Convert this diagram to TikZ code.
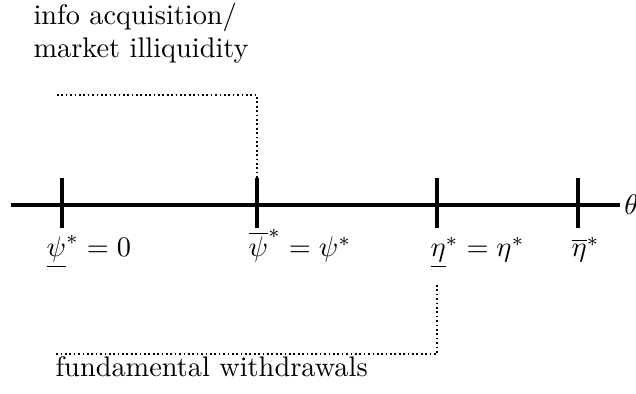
\documentclass[tikz,border=0pt]{standalone}
\begin{document}
\begin{tikzpicture}[x=0.3528pt,y=-0.3528pt,
  axis/.style={line width=1.1pt},
  tickmark/.style={line width=1.5pt},
  guide/.style={line width=0.6pt,dash pattern=on 0.6pt off 0.95pt},
  lbl/.style={anchor=base west,inner sep=0pt}]
\useasboundingbox (0,0) rectangle (636,394);
% axis
\coordinate (a0) at (11,205);
\coordinate (a1) at (620,205);
\draw[axis] (a0) -- (a1) node[anchor=west,inner sep=1pt] (th) {$\theta$};
% ticks
\foreach \n/\x in {t1/62,t2/257,t3/437,t4/578}{
  \coordinate (\n top) at (\x,178);
  \coordinate (\n bot) at (\x,228);
  \draw[tickmark] (\n top) -- (\n bot);
}
% labels
\node[lbl] (l1) at (46,257) {$\underline{\psi}^* = 0$};
\node[lbl] (l2) at (248,257) {$\overline{\psi}^* = \psi^*$};
\node[lbl] (l3) at (430,257) {$\underline{\eta}^* = \eta^*$};
\node[lbl] (l4) at (571,257) {$\overline{\eta}^*$};
% top text and guide
\node[lbl] (info) at (33,25) {info acquisition/};
\node[lbl] (mkt) at (33,58) {market illiquidity};
\coordinate (u0) at (57,95);
\coordinate (u1) at (257,95);
\draw[guide] (u0) -- (u1) -- (t2top);
% bottom text and guide
\coordinate (b0) at (437,285);
\coordinate (b1) at (437,354);
\coordinate (b2) at (55,354);
\draw[guide] (b0) -- (b1) -- (b2);
\node[lbl] (fw) at (55,377) {fundamental withdrawals};
\end{tikzpicture}
\end{document}
